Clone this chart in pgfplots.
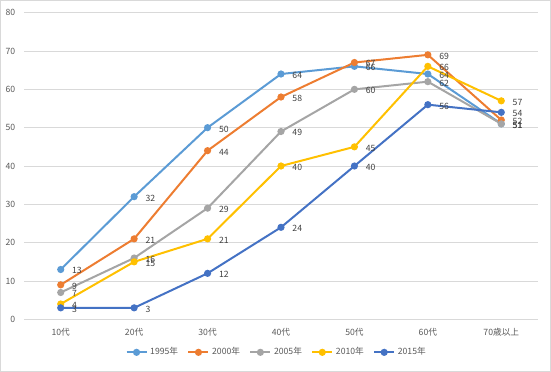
\documentclass[border=0pt]{standalone}
\usepackage{fontspec}
\setmainfont{Noto Sans CJK JP}
\usepackage{pgfplots}
\pgfplotsset{compat=1.18}
\definecolor{cA}{HTML}{5B9BD5}
\definecolor{cB}{HTML}{ED7D31}
\definecolor{cC}{HTML}{A5A5A5}
\definecolor{cD}{HTML}{FFC000}
\definecolor{cE}{HTML}{4472C4}
\definecolor{gridc}{HTML}{D9D9D9}
\definecolor{tickc}{HTML}{595959}
\definecolor{labc}{HTML}{404040}
\begin{document}
\begin{tikzpicture}
\draw[color=gridc, line width=0.75pt] (0.375pt,0.375pt) rectangle (412.875pt,278.625pt);
\begin{axis}[
  at={(18pt,39.5pt)}, anchor=south west,
  scale only axis, width=385.5pt, height=230pt,
  xmin=-0.5, xmax=6.5, ymin=0, ymax=80,
  xtick={0,...,6},
  xticklabels={10代,20代,30代,40代,50代,60代,70歳以上},
  ytick={0,10,...,80},
  ymajorgrids, grid style={color=gridc, line width=0.6pt},
  axis line style={draw=none},
  major tick length=0pt,
  clip=false,
  tick label style={font=\fontsize{6.5}{7}\selectfont, text=tickc},
  /pgf/number format/assume math mode=true,
  yticklabel style={xshift=-3pt},
  xticklabel style={yshift=-3pt},
  nodes near coords,
  every node near coord/.append style={font=\fontsize{6.5}{7}\selectfont, text=labc, anchor=west, xshift=4.5pt, yshift=-1pt},
  legend columns=5,
  legend style={draw=none, at={(0.5,0)}, anchor=center, yshift=-24.75pt, xshift=-3pt,
    font=\fontsize{6.5}{7}\selectfont, text=tickc,
    /tikz/every even column/.append style={column sep=5pt}},
  legend image code/.code={\draw[#1, mark repeat=2, mark phase=2] plot coordinates {(0pt,0pt) (7.5pt,0pt) (15pt,0pt)};},
  every axis plot/.append style={line width=1.5pt, mark=*, mark size=1.9pt},
]
\addplot[cA] coordinates {(0,13) (1,32) (2,50) (3,64) (4,66) (5,64) (6,51)};
\addlegendentry{1995年}
\addplot[cB] coordinates {(0,9) (1,21) (2,44) (3,58) (4,67) (5,69) (6,52)};
\addlegendentry{2000年}
\addplot[cC] coordinates {(0,7) (1,16) (2,29) (3,49) (4,60) (5,62) (6,51)};
\addlegendentry{2005年}
\addplot[cD] coordinates {(0,4) (1,15) (2,21) (3,40) (4,45) (5,66) (6,57)};
\addlegendentry{2010年}
\addplot[cE] coordinates {(0,3) (1,3) (2,12) (3,24) (4,40) (5,56) (6,54)};
\addlegendentry{2015年}
\end{axis}
\end{tikzpicture}
\end{document}
